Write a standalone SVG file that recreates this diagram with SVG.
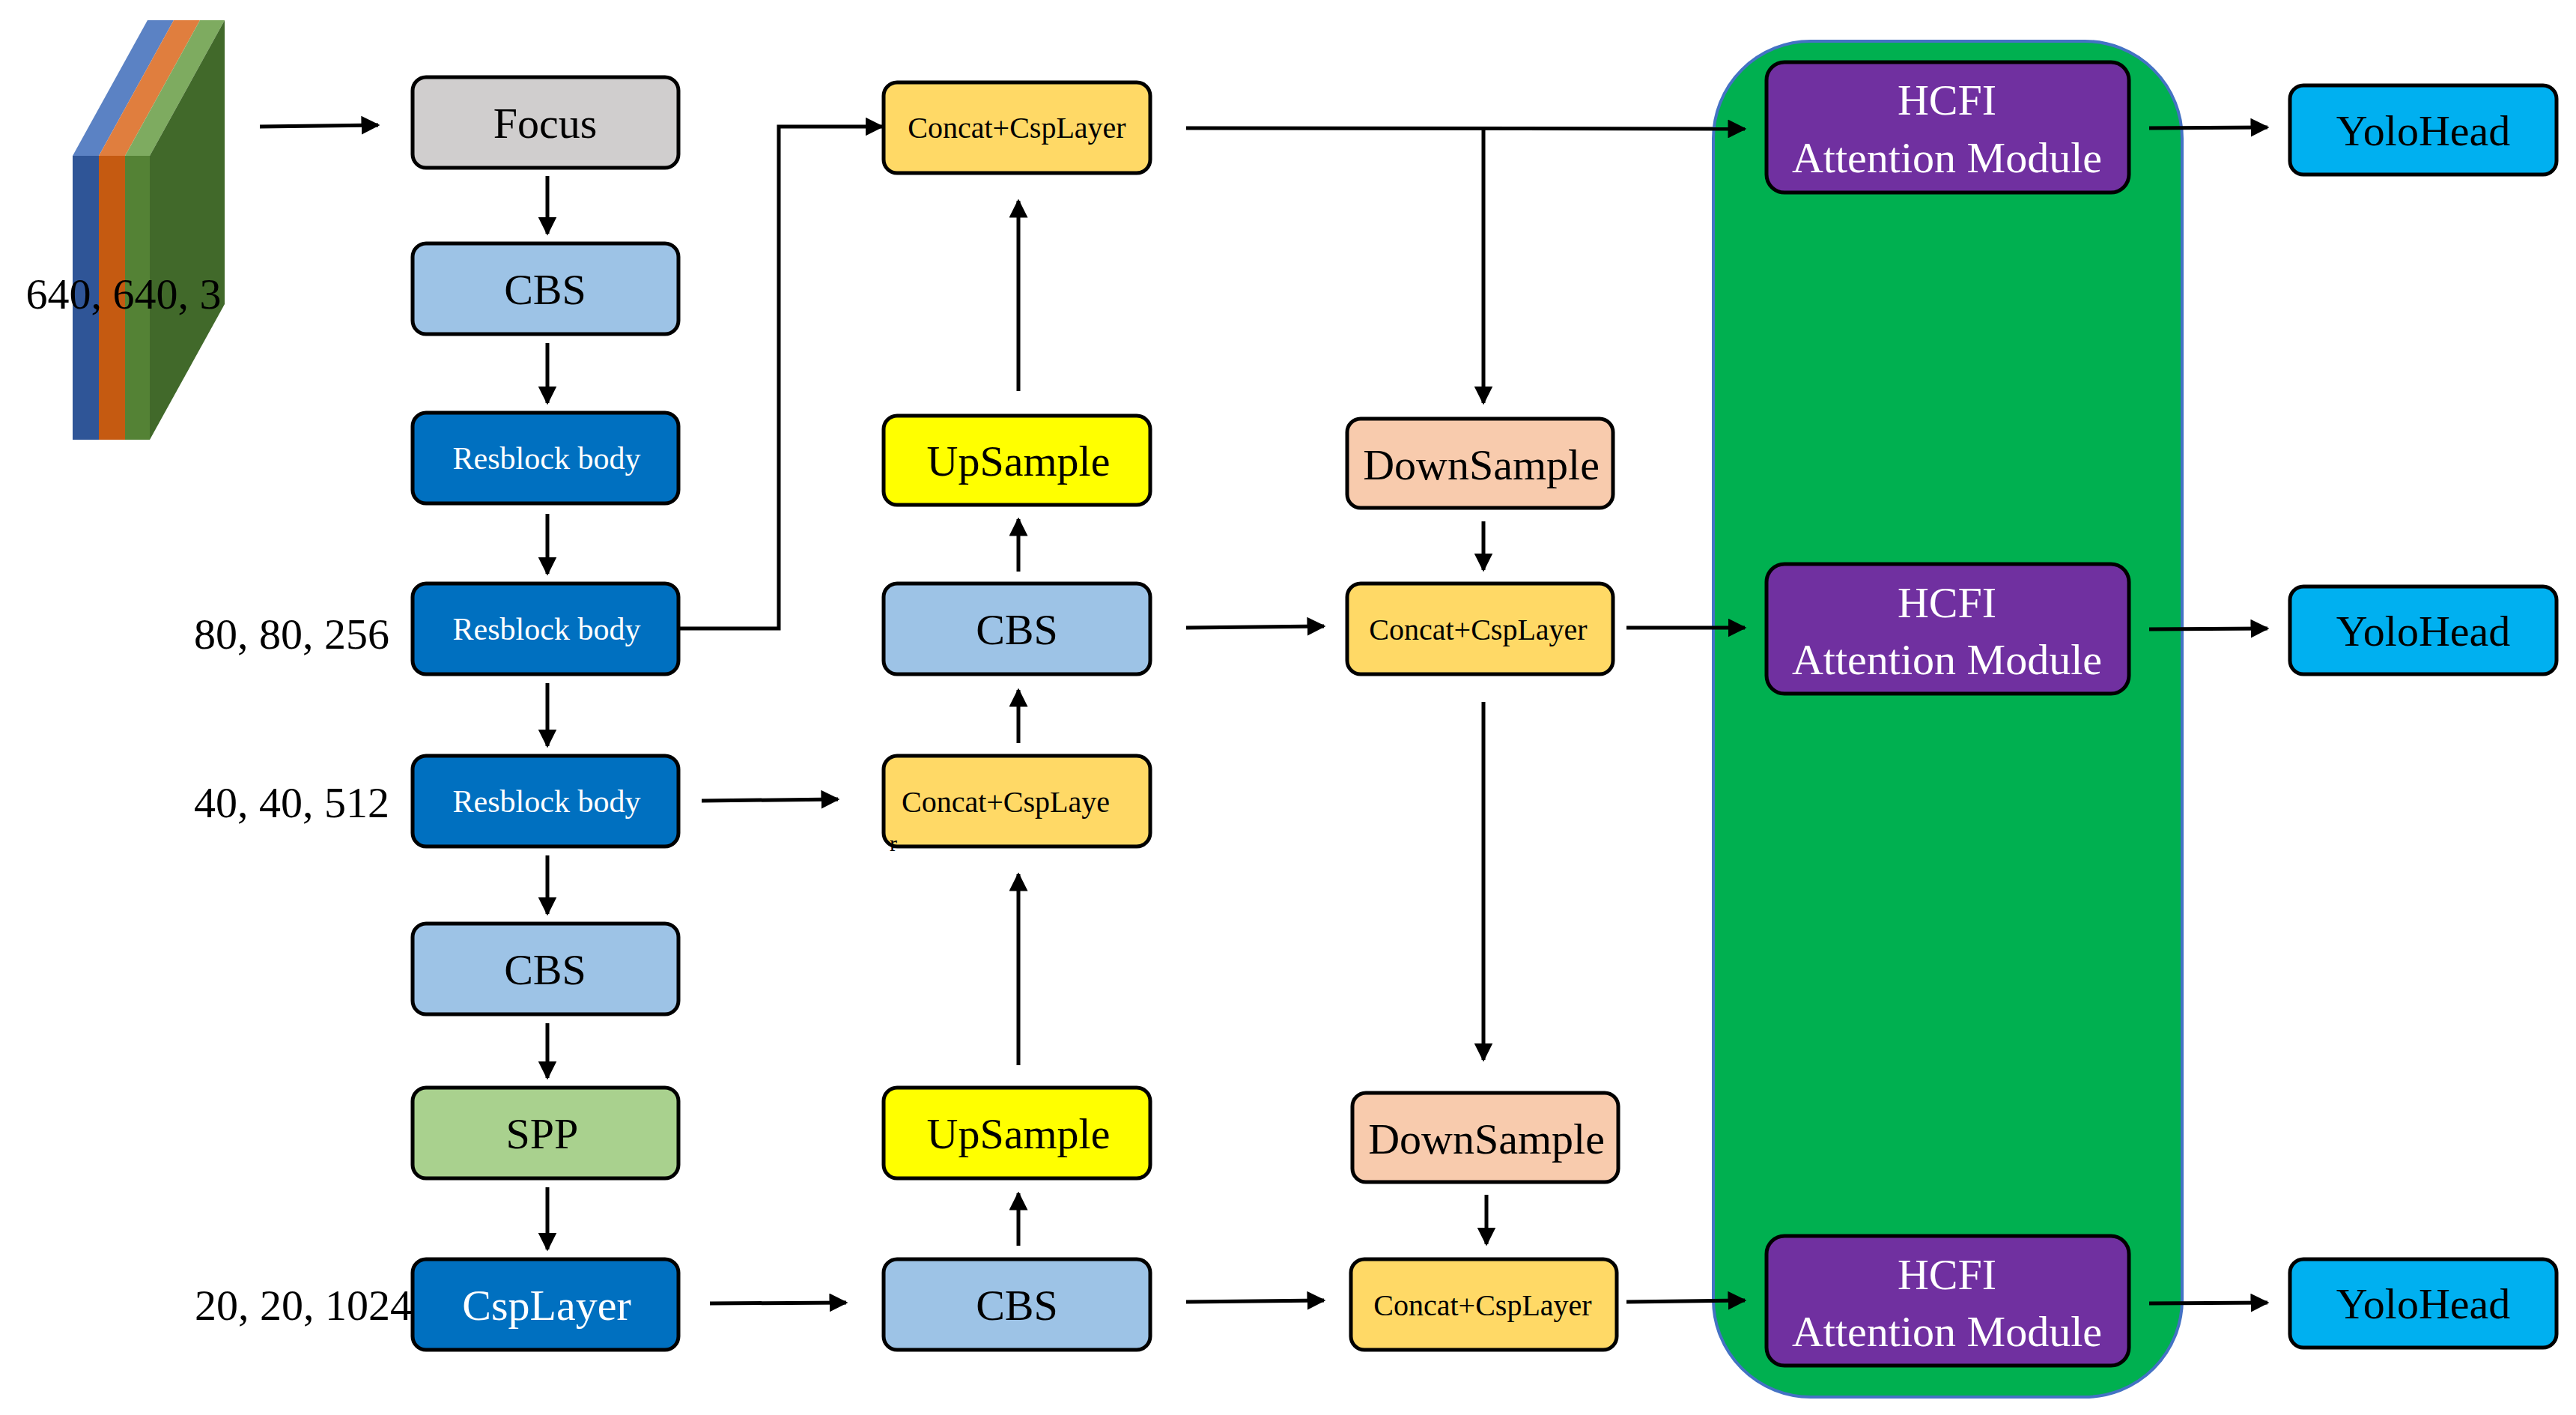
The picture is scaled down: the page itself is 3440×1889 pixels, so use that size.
<svg xmlns="http://www.w3.org/2000/svg" width="3440" height="1889" viewBox="0 0 3440 1889">
<style>
.b{stroke:#000;stroke-width:5}
.t{font-family:"Liberation Serif",serif;text-anchor:middle;dominant-baseline:central}
.c line,.c path{stroke:#000;stroke-width:5;fill:none;marker-end:url(#a)}
.lbl{font-family:"Liberation Serif",serif;font-size:58px}
</style>
<defs><marker id="a" viewBox="0 0 10 10" refX="9" refY="5" markerWidth="5" markerHeight="5" orient="auto"><path d="M0,0L10,5L0,10z" fill="#000"/></marker></defs>
<rect width="3440" height="1889" fill="#fff"/>
<g id="input">
<polygon points="97,208 132,208 232,27 197,27" fill="#5B82C4"/>
<polygon points="132,208 167,208 267,27 232,27" fill="#E07E3E"/>
<polygon points="167,208 200,208 300,27 267,27" fill="#7EAB60"/>
<polygon points="200,208 300,27 300,406 200,587" fill="#41692A"/>
<rect x="97" y="208" width="35" height="379" fill="#2F5597"/>
<rect x="132" y="208" width="35" height="379" fill="#C55A11"/>
<rect x="167" y="208" width="33" height="379" fill="#548235"/>
<text class="lbl" x="165" y="412" text-anchor="middle">640, 640, 3</text>
</g>
<text class="lbl" x="520" y="866" text-anchor="end">80, 80, 256</text>
<text class="lbl" x="520" y="1091" text-anchor="end">40, 40, 512</text>
<text class="lbl" x="550" y="1762" text-anchor="end">20, 20, 1024</text>
<rect id="panel" x="2288" y="55" width="626" height="1810" rx="130" fill="#00B050" stroke="#4472C4" stroke-width="4"/>
<g id="focus"><rect class="b" x="551" y="103" width="355" height="121" rx="18" fill="#D0CECE"/><text class="t" x="728" y="164" font-size="58">Focus</text></g>
<g id="cbs1"><rect class="b" x="551" y="325" width="355" height="121" rx="18" fill="#9DC3E6"/><text class="t" x="728" y="386" font-size="58">CBS</text></g>
<g id="res1"><rect class="b" x="551" y="551" width="355" height="121" rx="18" fill="#0070C0"/><text class="t" x="730" y="612" font-size="42" fill="#fff">Resblock body</text></g>
<g id="res2"><rect class="b" x="551" y="779" width="355" height="121" rx="18" fill="#0070C0"/><text class="t" x="730" y="840" font-size="42" fill="#fff">Resblock body</text></g>
<g id="res3"><rect class="b" x="551" y="1009" width="355" height="121" rx="18" fill="#0070C0"/><text class="t" x="730" y="1070" font-size="42" fill="#fff">Resblock body</text></g>
<g id="cbs2"><rect class="b" x="551" y="1233" width="355" height="121" rx="18" fill="#9DC3E6"/><text class="t" x="728" y="1294" font-size="58">CBS</text></g>
<g id="spp"><rect class="b" x="551" y="1452" width="355" height="121" rx="18" fill="#A9D18E"/><text class="t" x="724" y="1513" font-size="58">SPP</text></g>
<g id="csp"><rect class="b" x="551" y="1681" width="355" height="121" rx="18" fill="#0070C0"/><text class="t" x="730" y="1742" font-size="58" fill="#fff">CspLayer</text></g>
<g id="concat1"><rect class="b" x="1180" y="110" width="356" height="121" rx="18" fill="#FFD966"/><text class="t" x="1358" y="170" font-size="40">Concat+CspLayer</text></g>
<g id="up1"><rect class="b" x="1180" y="555" width="356" height="119" rx="18" fill="#FFFF00"/><text class="t" x="1360" y="615" font-size="58">UpSample</text></g>
<g id="cbs3"><rect class="b" x="1180" y="779" width="356" height="121" rx="18" fill="#9DC3E6"/><text class="t" x="1358" y="840" font-size="58">CBS</text></g>
<g id="concat2"><rect class="b" x="1180" y="1009" width="356" height="121" rx="18" fill="#FFD966"/><text class="t" x="1343" y="1070" font-size="40">Concat+CspLaye</text><text x="1188" y="1136" font-family="Liberation Serif,serif" font-size="30">r</text></g>
<g id="up2"><rect class="b" x="1180" y="1452" width="356" height="121" rx="18" fill="#FFFF00"/><text class="t" x="1360" y="1513" font-size="58">UpSample</text></g>
<g id="cbs4"><rect class="b" x="1180" y="1681" width="356" height="121" rx="18" fill="#9DC3E6"/><text class="t" x="1358" y="1742" font-size="58">CBS</text></g>
<g id="down1"><rect class="b" x="1799" y="559" width="355" height="119" rx="18" fill="#F8CBAD"/><text class="t" x="1978" y="620" font-size="58">DownSample</text></g>
<g id="concat3"><rect class="b" x="1799" y="779" width="355" height="121" rx="18" fill="#FFD966"/><text class="t" x="1974" y="840" font-size="40">Concat+CspLayer</text></g>
<g id="down2"><rect class="b" x="1806" y="1459" width="355" height="119" rx="18" fill="#F8CBAD"/><text class="t" x="1985" y="1520" font-size="58">DownSample</text></g>
<g id="concat4"><rect class="b" x="1804" y="1681" width="355" height="121" rx="18" fill="#FFD966"/><text class="t" x="1980" y="1742" font-size="40">Concat+CspLayer</text></g>
<g id="hcfi1"><rect class="b" x="2359" y="83" width="484" height="174" rx="24" fill="#7030A0"/><text class="t" x="2600" y="133" font-size="58" fill="#fff">HCFI</text><text class="t" x="2600" y="210" font-size="58" fill="#fff">Attention Module</text></g>
<g id="hcfi2"><rect class="b" x="2359" y="753" width="484" height="173" rx="24" fill="#7030A0"/><text class="t" x="2600" y="804" font-size="58" fill="#fff">HCFI</text><text class="t" x="2600" y="880" font-size="58" fill="#fff">Attention Module</text></g>
<g id="hcfi3"><rect class="b" x="2359" y="1650" width="484" height="173" rx="24" fill="#7030A0"/><text class="t" x="2600" y="1701" font-size="58" fill="#fff">HCFI</text><text class="t" x="2600" y="1777" font-size="58" fill="#fff">Attention Module</text></g>
<g id="yolo1"><rect class="b" x="3058" y="114" width="356" height="119" rx="18" fill="#00B0F0"/><text class="t" x="3236" y="174" font-size="58">YoloHead</text></g>
<g id="yolo2"><rect class="b" x="3058" y="783" width="356" height="117" rx="18" fill="#00B0F0"/><text class="t" x="3236" y="842" font-size="58">YoloHead</text></g>
<g id="yolo3"><rect class="b" x="3058" y="1681" width="356" height="118" rx="18" fill="#00B0F0"/><text class="t" x="3236" y="1740" font-size="58">YoloHead</text></g>
<g class="c" id="connectors">
<line x1="347" y1="169" x2="505" y2="167"/>
<line x1="731" y1="235" x2="731" y2="312"/>
<line x1="731" y1="458" x2="731" y2="538"/>
<line x1="731" y1="686" x2="731" y2="766"/>
<line x1="731" y1="912" x2="731" y2="996"/>
<line x1="731" y1="1142" x2="731" y2="1220"/>
<line x1="731" y1="1366" x2="731" y2="1439"/>
<line x1="731" y1="1585" x2="731" y2="1668"/>
<path d="M906,839H1040V169H1178"/>
<line x1="1584" y1="171" x2="2330" y2="172"/>
<line x1="1981" y1="172" x2="1981" y2="538"/>
<line x1="1360" y1="522" x2="1360" y2="268"/>
<line x1="1360" y1="763" x2="1360" y2="693"/>
<line x1="1360" y1="992" x2="1360" y2="921"/>
<line x1="1360" y1="1422" x2="1360" y2="1167"/>
<line x1="1360" y1="1663" x2="1360" y2="1593"/>
<line x1="937" y1="1069" x2="1119" y2="1067"/>
<line x1="948" y1="1740" x2="1130" y2="1739"/>
<line x1="1584" y1="838" x2="1768" y2="836"/>
<line x1="1981" y1="696" x2="1981" y2="761"/>
<line x1="1981" y1="937" x2="1981" y2="1415"/>
<line x1="1985" y1="1595" x2="1985" y2="1661"/>
<line x1="1584" y1="1738" x2="1768" y2="1736"/>
<line x1="2172" y1="838" x2="2330" y2="838"/>
<line x1="2172" y1="1738" x2="2330" y2="1736"/>
<line x1="2870" y1="171" x2="3028" y2="170"/>
<line x1="2870" y1="840" x2="3028" y2="839"/>
<line x1="2870" y1="1740" x2="3028" y2="1739"/>
</g>
</svg>
